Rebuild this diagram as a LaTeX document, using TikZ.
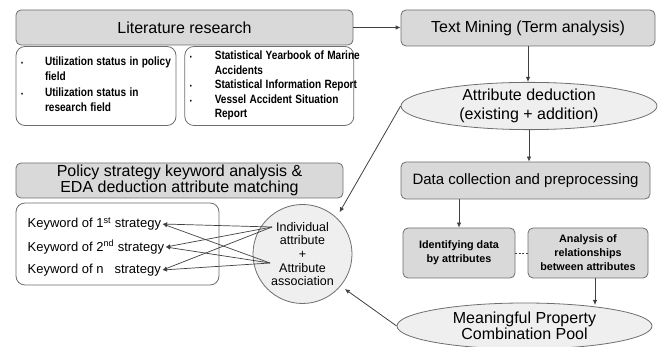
\documentclass[tikz,border=0pt]{standalone}
\usepackage{fontspec}
\setmainfont{Liberation Sans}
\newfontfamily\condfont[FakeStretch=0.84]{Liberation Sans}
\usepackage{xcolor}
\usetikzlibrary{arrows.meta,positioning,shapes.geometric}
\definecolor{boxfill}{HTML}{D9D9D9}
\definecolor{ovalfill}{HTML}{EFEFEF}
\definecolor{edgegray}{HTML}{6E6E6E}
\definecolor{linegray}{HTML}{404040}
\tikzset{
  flow/.style={-{Latex[length=5pt,width=4.5pt]}, line width=0.8pt, draw=linegray},
  kwflow/.style={-{Latex[length=4.5pt,width=4pt]}, line width=0.7pt, draw=linegray},
  box/.style={rounded corners=5pt, draw=edgegray, fill=boxfill, line width=0.8pt,
              align=center, inner sep=0pt},
  listbox/.style={rounded corners=9pt, draw=edgegray, fill=white, line width=0.8pt,
                  align=left, inner xsep=5pt, inner ysep=0pt},
  oval/.style={ellipse, draw=edgegray, fill=ovalfill, line width=0.8pt,
               align=center, inner sep=0pt}
}
\newcommand{\bul}{{\scriptsize\textbullet}}

\begin{document}
\begin{tikzpicture}[x=1pt, y=-1pt]
  \useasboundingbox (0,0) rectangle (664,347);

  % literature research and its sources
  \node[box, minimum width=337pt, minimum height=35pt, font=\fontsize{16}{18}\selectfont] (lit) at (184.5,27.5) {Literature research};
  \node[listbox, text width=150pt, minimum height=79pt] (litA) at (96,86) {\condfont\bfseries\fontsize{12}{15}\selectfont
    \begin{tabular}{@{}p{24pt}@{}l@{}}
      \bul & Utilization status in policy\\
           & field\\[1pt]
      \bul & Utilization status in\\
           & research field
    \end{tabular}};
  \node[listbox, text width=159pt, minimum height=79pt, right=8pt of litA] (litB) {\condfont\bfseries\fontsize{12}{14.5}\selectfont
    \begin{tabular}{@{}p{25pt}@{}l@{}}
      \bul & Statistical Yearbook of Marine\\
           & Accidents\\
      \bul & Statistical Information Report\\
      \bul & Vessel Accident Situation\\
           & Report
    \end{tabular}};

  % right column
  \node[box, minimum width=254pt, minimum height=36pt, font=\fontsize{16}{18}\selectfont] (tm) at (528,28) {Text Mining (Term analysis)};
  \node[oval, minimum width=256pt, minimum height=46pt, font=\fontsize{16}{18.5}\selectfont] (ded) at (529,106) {Attribute deduction\\(existing + addition)};
  \node[box, minimum width=249pt, minimum height=37pt, font=\fontsize{15}{17}\selectfont] (dc) at (525.5,180.5) {Data collection and preprocessing};
  \node[box, minimum width=112pt, minimum height=50pt, font=\bfseries\fontsize{10.8}{14}\selectfont] (idd) at (459,253) {Identifying data\\by attributes};
  \node[box, minimum width=120pt, minimum height=50pt, font=\bfseries\fontsize{10.8}{14}\selectfont] (ana) at (588,253) {Analysis of\\relationships\\between attributes};
  \node[oval, minimum width=255pt, minimum height=46pt, font=\fontsize{16}{15.5}\selectfont] (pool) at (524.5,326) {Meaningful Property\\Combination Pool};

  % left lower part
  \node[box, minimum width=327pt, minimum height=35pt, font=\fontsize{16}{15.5}\selectfont] (pol) at (179.5,180.5) {Policy strategy keyword analysis \&\\EDA deduction attribute matching};
  \node[listbox, minimum width=203pt, minimum height=82pt] (kw) at (117.5,244) {};
  \node[anchor=west, inner sep=1.5pt, font=\fontsize{13}{14}\selectfont] (k1) at (26,224) {Keyword of 1\textsuperscript{st} strategy};
  \node[anchor=west, inner sep=1.5pt, font=\fontsize{13}{14}\selectfont] (k2) at (26,247) {Keyword of 2\textsuperscript{nd} strategy};
  \node[anchor=west, inner sep=1.5pt, font=\fontsize{13}{14}\selectfont] (k3) at (26,270) {Keyword of n\hspace{11pt}strategy};
  \node[circle, draw=edgegray, fill=ovalfill, line width=0.8pt, minimum size=99pt, inner sep=0pt,
        align=center, font=\fontsize{12.5}{13.7}\selectfont] (circ) at (302.5,254) {Individual\\attribute\\+\\Attribute\\association};
  \coordinate (p1) at (272,227);
  \coordinate (p2) at (270,263);
  \coordinate (poolin) at (595,305);

  % connectors
  \draw[flow] (lit.east) -- (lit.east -| tm.west);
  \draw[flow] (tm.south) -- (tm.south |- ded.north);
  \draw[flow] (ded.south) -- (ded.south |- dc.north);
  \draw[flow] (dc.south -| idd.north) -- (idd.north);
  \draw[line width=0.6pt, draw=linegray, dashed, dash pattern=on 2pt off 1.5pt] (idd.east) -- (ana.west);
  \draw[flow] (ana.south -| poolin) -- (poolin);
  \draw[flow, shorten >=6pt] (ded.west) -- (circ.47);
  \draw[flow, shorten >=5pt] (pool.west) -- (circ.-40);
  \foreach \s in {p1,p2}
    \foreach \k in {k1,k2,k3}
      \draw[kwflow] (\s) -- (\k.east);
\end{tikzpicture}
\end{document}
